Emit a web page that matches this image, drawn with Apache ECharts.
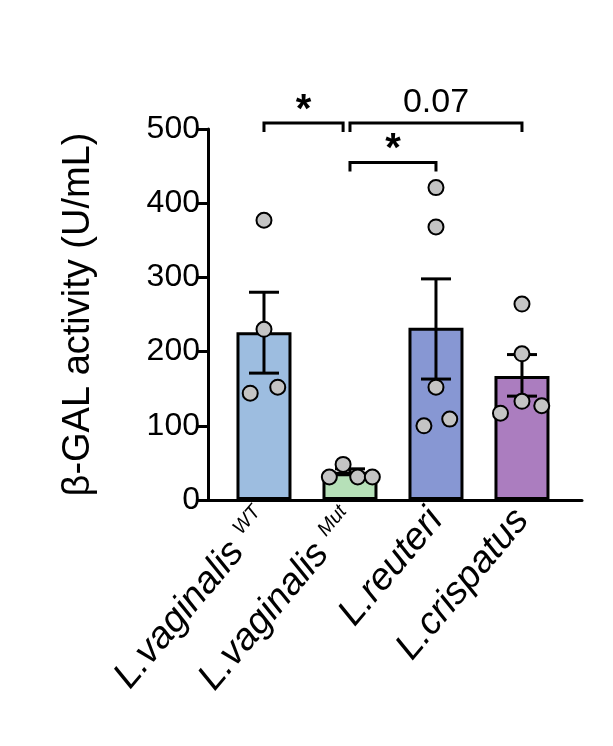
<!DOCTYPE html>
<html><head><meta charset="utf-8">
<script src="https://cdn.jsdelivr.net/npm/echarts@6/dist/echarts.min.js"></script>
<style>html,body{margin:0;padding:0;background:#fff}#c{width:613px;height:746px}</style>
</head><body><div id="c"></div>
<script>
const categories = ['L.vaginalis|WT', 'L.vaginalis|Mut', 'L.reuteri|', 'L.crispatus|'];
const colors = ['#9dbde0', '#b6e0b8', '#8797d3', '#ab7dbf'];
const means = [226, 38, 232, 167];
const errLow = [171, 34, 163, 140];
const errHigh = [280, 42, 298, 196];
const points = [
  [[0, 377], [0, 230], [-0.16, 144], [0.16, 152]],
  [[-0.08, 48], [-0.24, 31], [0.09, 31], [0.26, 31]],
  [[0, 421], [0, 368], [0, 152], [-0.14, 100], [0.16, 109]],
  [[0, 264], [0, 197], [0, 133], [-0.25, 117], [0.23, 127]]
];
const brackets = [[0, 0.92, 508, '*'], [1, 3, 508, '0.07'], [1, 2, 455, '*']];
const yTicks = [0, 100, 200, 300, 400, 500];

const chart = echarts.init(document.getElementById('c'));
const F = 'Liberation Sans, Arial, sans-serif';
const series = [];
series.push({
  type: 'bar', barWidth: 55, z: 2,
  data: means.map((v, i) => ({ value: [i, v], itemStyle: { color: colors[i] } })),
  itemStyle: { borderColor: '#000', borderWidth: 3 }
});
series.push({
  type: 'custom', z: 3,
  data: means.map((v, i) => [i, errLow[i], errHigh[i]]),
  renderItem: (p, api) => {
    const x = api.coord([api.value(0), 0])[0];
    const lo = api.coord([0, api.value(1)])[1];
    const hi = api.coord([0, api.value(2)])[1];
    const st = { stroke: '#000', lineWidth: 3 };
    return { type: 'group', children: [
      { type: 'line', shape: { x1: x, y1: lo, x2: x, y2: hi }, style: st },
      { type: 'line', shape: { x1: x - 15, y1: hi, x2: x + 15, y2: hi }, style: st },
      { type: 'line', shape: { x1: x - 15, y1: lo, x2: x + 15, y2: lo }, style: st }
    ]};
  }
});
series.push({
  type: 'scatter', z: 4, symbolSize: 15,
  itemStyle: { color: '#c4c4c4', borderColor: '#000', borderWidth: 2, opacity: 1 },
  data: points.flatMap((g, i) => g.map(p => [i + p[0], p[1]]))
});
series.push({
  type: 'custom', z: 5, clip: false,
  data: brackets,
  renderItem: (p, api) => {
    const x1 = api.coord([api.value(0), 0])[0];
    const x2 = api.coord([api.value(1), 0])[0];
    const y = api.coord([0, api.value(2)])[1];
    const lbl = brackets[p.dataIndex][3];
    const st = { stroke: '#000', lineWidth: 3, fill: null };
    const star = lbl === '*';
    return { type: 'group', children: [
      { type: 'polyline', shape: { points: [[x1, y + 9], [x1, y], [x2, y], [x2, y + 9]] }, style: st },
      { type: 'text', style: { text: lbl, x: (x1 + x2) / 2, y: star ? y + 8 : y - 3,
        align: 'center', verticalAlign: 'bottom', fill: '#000',
        font: (star ? 'bold 40px ' : '34px ') + F } }
    ]};
  }
});
chart.setOption({
  animation: false,
  grid: { left: 208, right: 31, top: 129, bottom: 246 },
  xAxis: {
    type: 'value', min: -0.651, max: 3.698,
    splitLine: { show: false },
    axisLine: { lineStyle: { color: '#000', width: 3 } },
    axisTick: { show: false },
    axisLabel: {
      customValues: [0, 1, 2, 3], rotate: 50, margin: 14,
      formatter: v => { const s = categories[Math.round(v)].split('|');
        return s[1] ? '{a|' + s[0] + ' }{s|' + s[1] + '}' : '{a|' + s[0] + '}'; },
      rich: {
        a: { fontSize: 38, fontStyle: 'italic', fontFamily: F, color: '#000' },
        s: { fontSize: 20, fontStyle: 'italic', fontFamily: F, color: '#000', padding: [0, 0, 18, 0] }
      }
    }
  },
  yAxis: {
    type: 'value', min: 0, max: 500, interval: 100,
    name: 'β-GAL activity (U/mL)', nameLocation: 'middle', nameGap: 110,
    nameTextStyle: { fontSize: 38, fontFamily: F, color: '#000' },
    splitLine: { show: false },
    axisLine: { show: true, onZero: false, lineStyle: { color: '#000', width: 3 } },
    axisTick: { show: true, length: 10, lineStyle: { width: 3 } },
    axisLabel: { fontSize: 32, fontFamily: F, color: '#000', margin: 8,
      customValues: yTicks }
  },
  series
});
</script></body></html>
